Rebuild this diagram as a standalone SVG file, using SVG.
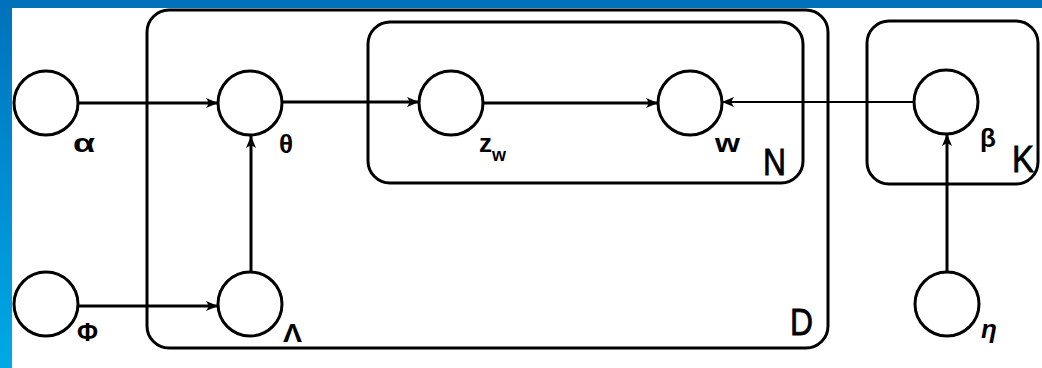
<svg xmlns="http://www.w3.org/2000/svg" width="1042" height="368" viewBox="0 0 1042 368">
<defs>
<linearGradient id="lbar" x1="0" y1="0" x2="0" y2="1">
<stop offset="0" stop-color="#0071bc"/>
<stop offset="1" stop-color="#00a9e6"/>
</linearGradient>
<marker id="arr" markerUnits="userSpaceOnUse" markerWidth="14" markerHeight="12" refX="12" refY="5" orient="auto">
<path d="M0,0 L12,5 L0,10 L3,5 z" fill="#000"/>
</marker>
<style>
.plate{fill:none;stroke:#000;stroke-width:3}
.node{fill:#fff;stroke:#000;stroke-width:3}
.edge{fill:none;stroke:#000;stroke-width:3;marker-end:url(#arr)}
.lbl{font-family:"Liberation Sans","DejaVu Sans",sans-serif;font-weight:bold;font-size:26px;fill:#000}
.plbl{font-family:"Liberation Sans","DejaVu Sans",sans-serif;font-size:37px;fill:#000;stroke:#000;stroke-width:0.8}
</style>
</defs>
<rect x="0" y="0" width="1042" height="368" fill="#fff"/>
<rect x="0" y="0" width="1042" height="8" fill="#0072bc"/>
<rect x="0" y="0" width="12" height="368" fill="url(#lbar)"/>

<g id="plates">
<g id="plate-D"><rect class="plate" x="147" y="10" width="681" height="338" rx="22"/><text class="plbl" x="790" y="335" textLength="23" lengthAdjust="spacingAndGlyphs">D</text></g>
<g id="plate-N"><rect class="plate" x="368" y="22" width="435" height="161" rx="22"/><text class="plbl" x="763" y="175" textLength="23" lengthAdjust="spacingAndGlyphs">N</text></g>
<g id="plate-K"><rect class="plate" x="867" y="21" width="171" height="163" rx="22"/><text class="plbl" x="1012" y="172" textLength="22" lengthAdjust="spacingAndGlyphs">K</text></g>
</g>

<g id="connectors">
<path class="edge" d="M78,103 L218,103"/>
<path class="edge" d="M251,272 L251,136"/>
<path class="edge" d="M78,306 L218,306"/>
<path class="edge" d="M282,102 L419,102"/>
<path class="edge" d="M483,103 L658,103"/>
<path class="edge" style="stroke-width:2" d="M914,102 L722,102"/>
<path class="edge" d="M947,272 L947,134"/>
</g>

<g id="node-alpha"><circle class="node" cx="46" cy="103" r="32"/><text class="lbl" x="73" y="152" textLength="22" lengthAdjust="spacingAndGlyphs">α</text></g>
<g id="node-theta"><circle class="node" cx="250" cy="103" r="32"/><text class="lbl" x="279" y="153" font-size="23">θ</text></g>
<g id="node-zw"><circle class="node" cx="451" cy="103" r="32"/><text class="lbl" x="479" y="152" font-size="24">z<tspan font-size="18" dy="9">w</tspan></text></g>
<g id="node-w"><circle class="node" cx="690" cy="103" r="32"/><text class="lbl" x="715" y="152" textLength="25" lengthAdjust="spacingAndGlyphs">w</text></g>
<g id="node-beta"><circle class="node" cx="946" cy="102" r="32"/><text class="lbl" x="980" y="147" font-size="27">β</text></g>
<g id="node-phi"><circle class="node" cx="46" cy="304" r="32"/><text class="lbl" x="77" y="341" font-size="23" textLength="21" lengthAdjust="spacingAndGlyphs">Φ</text></g>
<g id="node-lambda"><circle class="node" cx="250" cy="304" r="32"/><text class="lbl" x="283" y="342" font-size="21" textLength="19" lengthAdjust="spacingAndGlyphs">Λ</text></g>
<g id="node-eta"><circle class="node" cx="947" cy="304" r="32"/><text class="lbl" x="981" y="338" font-style="italic" font-size="27">η</text></g>
</svg>
